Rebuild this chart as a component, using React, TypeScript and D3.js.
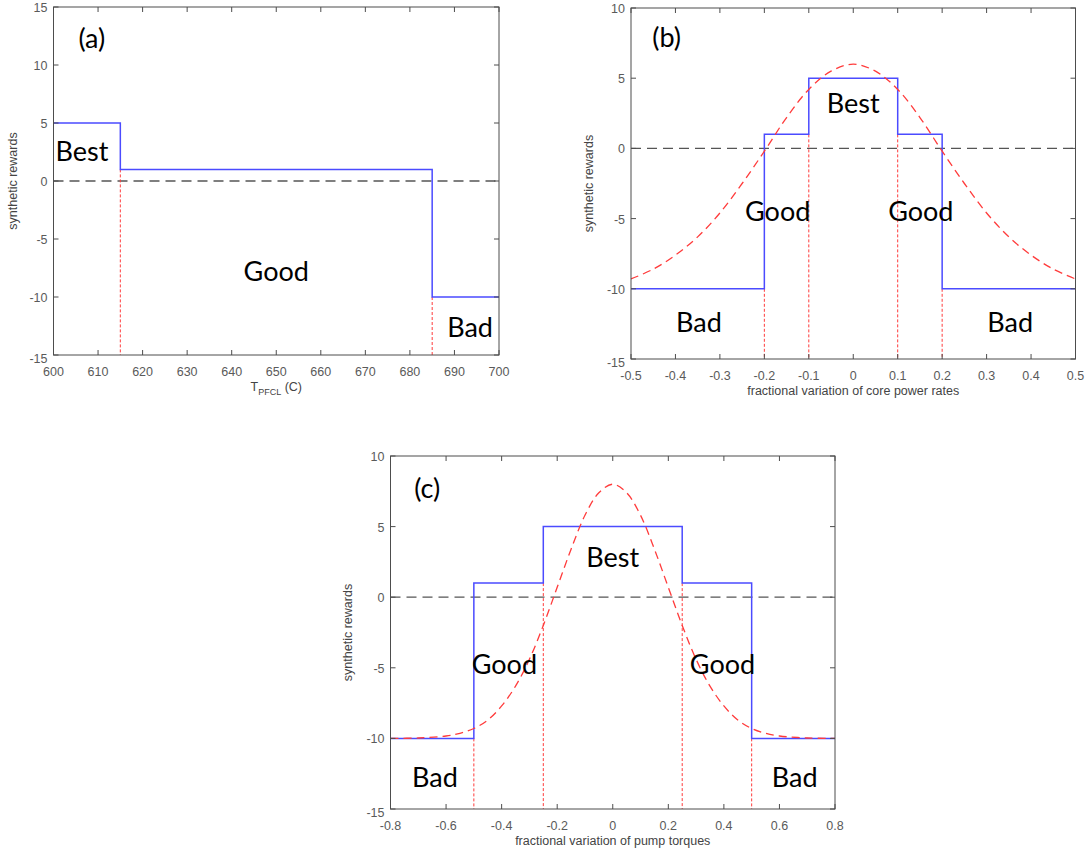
import React from "react";
import * as d3 from "d3";

// ---------- data ----------
// panel (a)
const aXTicks = [600, 610, 620, 630, 640, 650, 660, 670, 680, 690, 700];
const aYTicks = [-15, -10, -5, 0, 5, 10, 15];
const aStepX = [600, 615, 685, 700];
const aStepY = [5, 1, -10];
const aBounds = [615, 685];

// panel (b)
const bXTicks = [-0.5, -0.4, -0.3, -0.2, -0.1, 0, 0.1, 0.2, 0.3, 0.4, 0.5];
const bYTicks = [-15, -10, -5, 0, 5, 10];
const bStepX = [-0.5, -0.2, -0.1, 0.1, 0.2, 0.5];
const bStepY = [-10, 1, 5, 1, -10];
const bBounds = [-0.2, -0.1, 0.1, 0.2];
const bCurveX = [-0.5, -0.45, -0.4, -0.35, -0.3, -0.25, -0.2, -0.15, -0.1, -0.05, 0, 0.05, 0.1, 0.15, 0.2, 0.25, 0.3, 0.35, 0.4, 0.45, 0.5];
const bCurveY = [-9.3, -8.6, -7.6, -6.3, -4.6, -2.5, -0.2, 2.2, 4.2, 5.5, 6, 5.5, 4.2, 2.2, -0.2, -2.5, -4.6, -6.3, -7.6, -8.6, -9.3];

// panel (c)
const cXTicks = [-0.8, -0.6, -0.4, -0.2, 0, 0.2, 0.4, 0.6, 0.8];
const cYTicks = [-15, -10, -5, 0, 5, 10];
const cStepX = [-0.8, -0.5, -0.25, 0.25, 0.5, 0.8];
const cStepY = [-10, 1, 5, 1, -10];
const cBounds = [-0.5, -0.25, 0.25, 0.5];
const cCurveX = [-0.8, -0.7, -0.6, -0.55, -0.5, -0.45, -0.4, -0.35, -0.3, -0.25, -0.2, -0.15, -0.1, -0.05, 0, 0.05, 0.1, 0.15, 0.2, 0.25, 0.3, 0.35, 0.4, 0.45, 0.5, 0.55, 0.6, 0.7, 0.8];
const cCurveY = [-10, -9.97, -9.83, -9.64, -9.3, -8.7, -7.7, -6.3, -4.4, -2.0, 0.7, 3.4, 5.8, 7.4, 8, 7.4, 5.8, 3.4, 0.7, -2.0, -4.4, -6.3, -7.7, -8.7, -9.3, -9.64, -9.83, -9.97, -10];

type Label = { t: string; x: number; y: number };
const aLabels: Label[] = [
  { t: "(a)", x: 608.6, y: 12.3 },
  { t: "Best", x: 606.4, y: 2.5 },
  { t: "Good", x: 650, y: -7.8 },
  { t: "Bad", x: 693.5, y: -12.6 },
];
const bLabels: Label[] = [
  { t: "(b)", x: -0.42, y: 7.9 },
  { t: "Best", x: 0, y: 3.16 },
  { t: "Good", x: -0.17, y: -4.5 },
  { t: "Good", x: 0.152, y: -4.5 },
  { t: "Bad", x: -0.347, y: -12.4 },
  { t: "Bad", x: 0.353, y: -12.4 },
];
const cLabels: Label[] = [
  { t: "(c)", x: -0.668, y: 7.7 },
  { t: "Best", x: 0, y: 2.8 },
  { t: "Good", x: -0.39, y: -4.8 },
  { t: "Good", x: 0.395, y: -4.8 },
  { t: "Bad", x: -0.64, y: -12.8 },
  { t: "Bad", x: 0.655, y: -12.8 },
];

const BLUE = "#4b4bff";
const RED = "#ff3b3b";
const AXIS = "#4d4d4d";
const TICKTXT = "#5a5a5a";
const TICKFONT = "'Liberation Sans', Arial, sans-serif";
const ANNFONT = "Lato, 'Open Sans', sans-serif";

type PanelProps = {
  box: { l: number; r: number; t: number; b: number };
  xDom: [number, number];
  yDom: [number, number];
  xTicks: number[];
  yTicks: number[];
  stepX: number[];
  stepY: number[];
  bounds: number[];
  curveX?: number[];
  curveY?: number[];
  labels: Label[];
  xLabel: React.ReactNode;
  yLabelX: number;
  fmt: (v: number) => string;
};

function Panel(p: PanelProps) {
  const { box } = p;
  const x = d3.scaleLinear().domain(p.xDom).range([box.l, box.r]);
  const y = d3.scaleLinear().domain(p.yDom).range([box.b, box.t]);

  const pts: [number, number][] = [];
  p.stepY.forEach((v, i) => {
    pts.push([p.stepX[i], v]);
    pts.push([p.stepX[i + 1], v]);
  });
  const line = d3.line<[number, number]>().x((d) => x(d[0])).y((d) => y(d[1]));
  const stepPath = line(pts) || "";

  let curvePath = "";
  if (p.curveX && p.curveY) {
    const cp: [number, number][] = p.curveX.map((v, i) => [v, p.curveY![i]]);
    curvePath = d3.line<[number, number]>().x((d) => x(d[0])).y((d) => y(d[1])).curve(d3.curveCatmullRom)(cp) || "";
  }

  const boundLevel = (bx: number) => {
    const i = p.stepX.indexOf(bx);
    return Math.min(p.stepY[i - 1], p.stepY[i]);
  };

  const tl = 5;
  const cx = (box.l + box.r) / 2;
  const cy = (box.t + box.b) / 2;

  return (
    <g>
      <line x1={box.l} x2={box.r} y1={y(0)} y2={y(0)} stroke="#555" strokeWidth={1.3} strokeDasharray="10,6" />
      {p.bounds.map((bx, i) => (
        <line key={"bd" + i} x1={x(bx)} x2={x(bx)} y1={y(boundLevel(bx))} y2={box.b} stroke={RED} strokeWidth={1} strokeDasharray="3,2" />
      ))}
      <path d={stepPath} fill="none" stroke={BLUE} strokeWidth={1.5} />
      {curvePath && <path d={curvePath} fill="none" stroke={RED} strokeWidth={1.3} strokeDasharray="8,5" />}
      <rect x={box.l} y={box.t} width={box.r - box.l} height={box.b - box.t} fill="none" stroke={AXIS} strokeWidth={1} />
      {p.xTicks.map((v, i) => (
        <g key={"xt" + i}>
          <line x1={x(v)} x2={x(v)} y1={box.b} y2={box.b - tl} stroke={AXIS} />
          <line x1={x(v)} x2={x(v)} y1={box.t} y2={box.t + tl} stroke={AXIS} />
          <text x={x(v)} y={box.b + 20.5} textAnchor="middle" fontSize={12.5} fontFamily={TICKFONT} fill={TICKTXT}>
            {p.fmt(v)}
          </text>
        </g>
      ))}
      {p.yTicks.map((v, i) => (
        <g key={"yt" + i}>
          <line x1={box.l} x2={box.l + tl} y1={y(v)} y2={y(v)} stroke={AXIS} />
          <line x1={box.r} x2={box.r - tl} y1={y(v)} y2={y(v)} stroke={AXIS} />
          <text
            x={box.l - 6}
            y={y(v) + 5 + (v === p.yDom[0] ? 2.5 : 0)}
            textAnchor="end"
            fontSize={12.5}
            fontFamily={TICKFONT}
            fill={TICKTXT}
          >
            {v}
          </text>
        </g>
      ))}
      <text x={cx} y={box.b + 36} textAnchor="middle" fontSize={12.5} fontFamily={TICKFONT} fill="#444">
        {p.xLabel}
      </text>
      <text
        transform={`translate(${p.yLabelX},${cy}) rotate(-90)`}
        textAnchor="middle"
        fontSize={12.5}
        fontFamily={TICKFONT}
        fill="#444"
      >
        synthetic rewards
      </text>
      {p.labels.map((lb, i) => (
        <text key={"lb" + i} x={x(lb.x)} y={y(lb.y)} dy="0.35em" textAnchor="middle" fontSize={27} fontFamily={ANNFONT} fill="#000">
          {lb.t}
        </text>
      ))}
    </g>
  );
}

const fmtA = (v: number) => String(v);
const fmtB = (v: number) => (v === 0 ? "0" : String(Math.round(v * 10) / 10));

export default function App() {
  return (
    <svg width={1088} height={861} style={{ position: "absolute", left: 0, top: 0, background: "#fff" }}>
      <rect width={1088} height={861} fill="#fff" />
      <Panel
        box={{ l: 53.5, r: 499, t: 7, b: 355 }}
        xDom={[600, 700]}
        yDom={[-15, 15]}
        xTicks={aXTicks}
        yTicks={aYTicks}
        stepX={aStepX}
        stepY={aStepY}
        bounds={aBounds}
        labels={aLabels}
        xLabel={
          <>
            <tspan>T</tspan>
            <tspan fontSize={9} dy={4}>PFCL</tspan>
            <tspan dy={-4}> (C)</tspan>
          </>
        }
        yLabelX={17}
        fmt={fmtA}
      />
      <Panel
        box={{ l: 631, r: 1075.5, t: 8, b: 359 }}
        xDom={[-0.5, 0.5]}
        yDom={[-15, 10]}
        xTicks={bXTicks}
        yTicks={bYTicks}
        stepX={bStepX}
        stepY={bStepY}
        bounds={bBounds}
        curveX={bCurveX}
        curveY={bCurveY}
        labels={bLabels}
        xLabel="fractional variation of core power rates"
        yLabelX={593}
        fmt={fmtB}
      />
      <Panel
        box={{ l: 390.5, r: 835, t: 456, b: 809 }}
        xDom={[-0.8, 0.8]}
        yDom={[-15, 10]}
        xTicks={cXTicks}
        yTicks={cYTicks}
        stepX={cStepX}
        stepY={cStepY}
        bounds={cBounds}
        curveX={cCurveX}
        curveY={cCurveY}
        labels={cLabels}
        xLabel="fractional variation of pump torques"
        yLabelX={352}
        fmt={fmtB}
      />
    </svg>
  );
}
